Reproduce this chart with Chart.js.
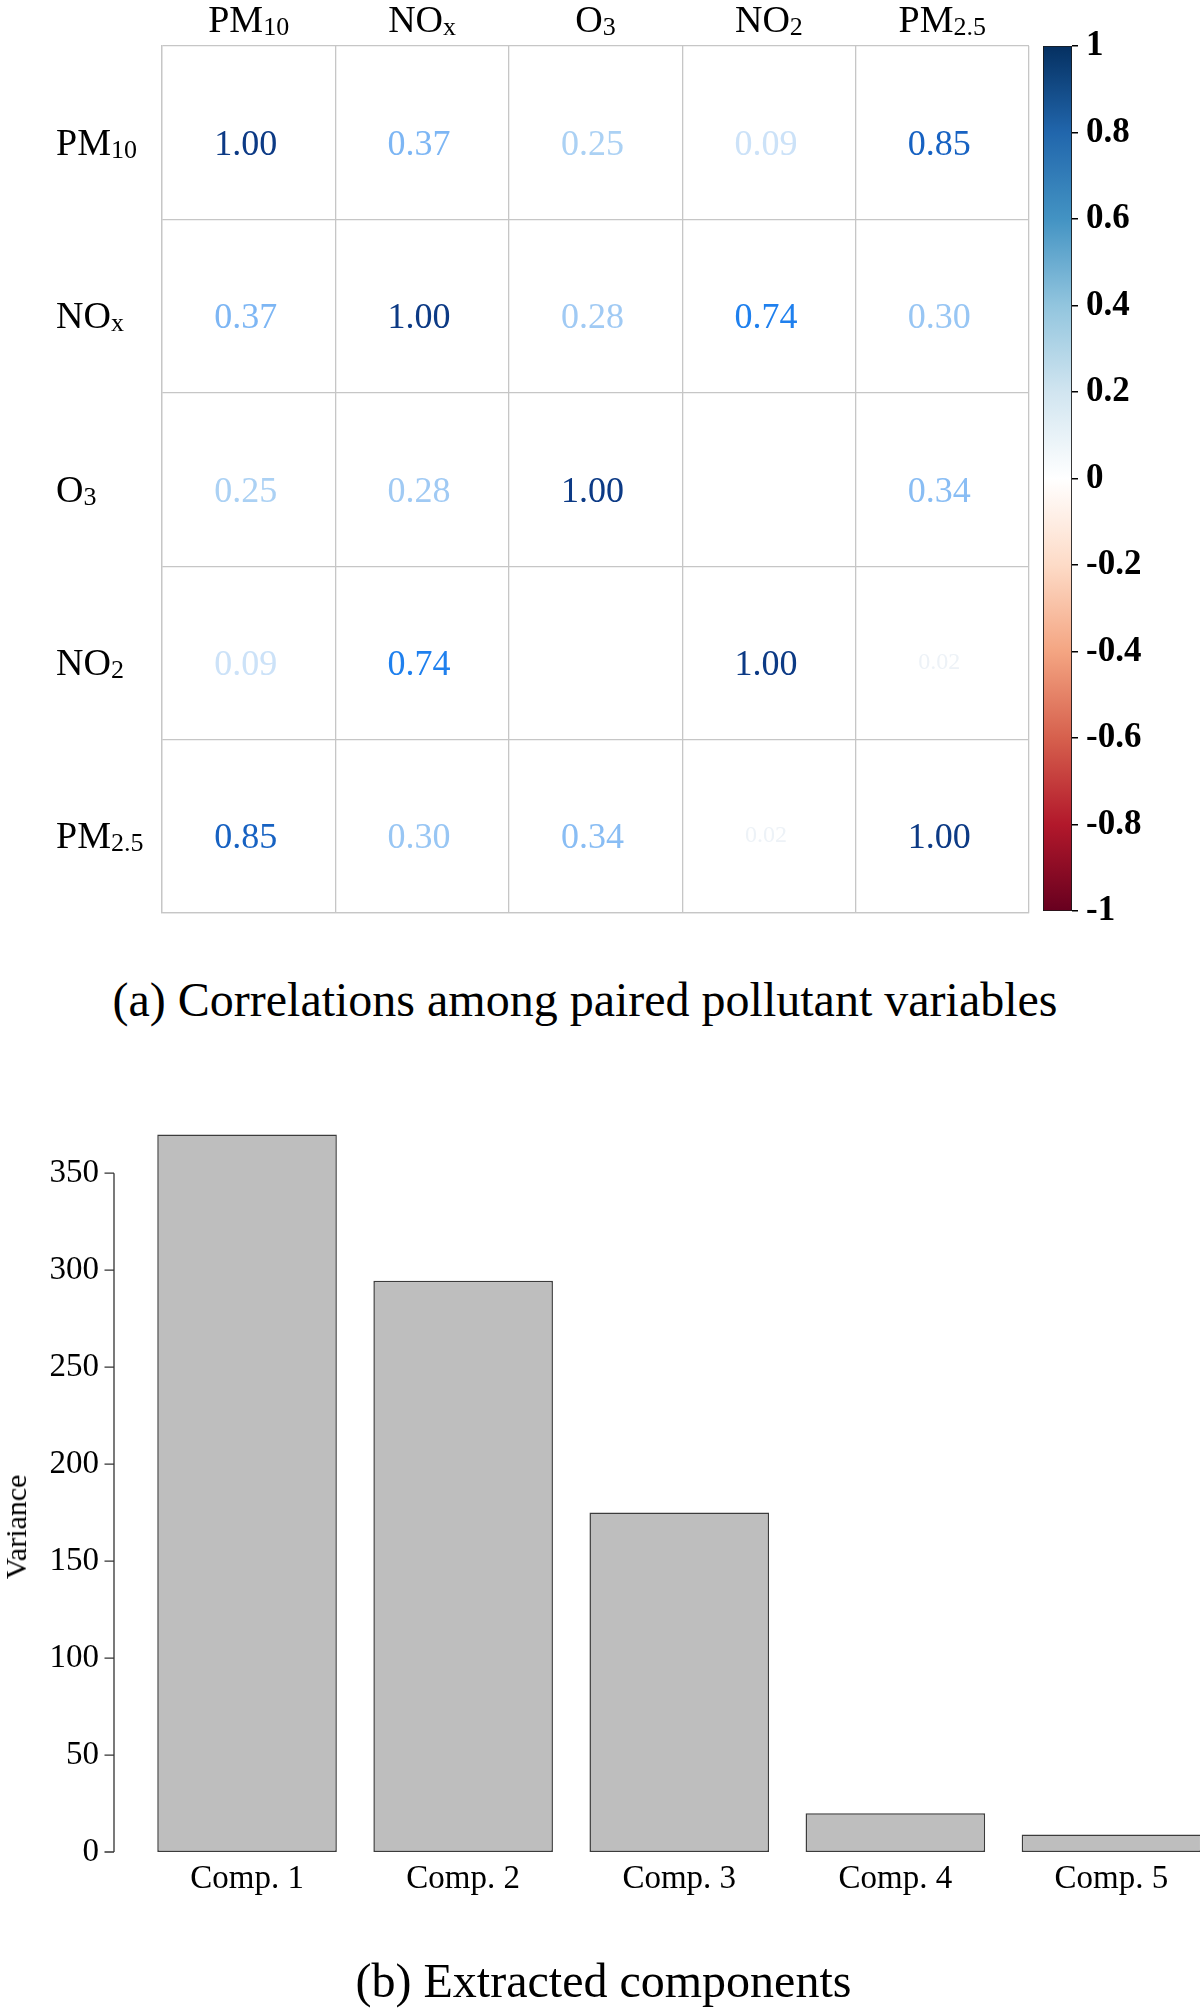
<!DOCTYPE html>
<html>
<head>
<meta charset="utf-8">
<title>Pollutant correlations and extracted components</title>
<script src="https://cdn.jsdelivr.net/npm/chart.js@4.4.1/dist/chart.umd.min.js"></script>
<style>
  html, body { margin: 0; padding: 0; background: #fff; overflow: hidden; }
  body { position: relative; width: 1200px; height: 2009px; font-family: "Liberation Serif", "Times New Roman", serif; color: #000; }
  canvas, .caption, .ylab { position: absolute; }
  .caption { font-size: 48px; line-height: 48px; text-align: center; white-space: nowrap; }
  .ylab { font-size: 30px; line-height: 30px; white-space: nowrap; transform: translate(-50%, -50%) rotate(-90deg); }
</style>
</head>
<body>
<canvas id="corrChart" width="1200" height="960" style="left:0;top:0"></canvas>
<canvas id="scaleChart" width="157" height="960" style="left:1043px;top:0"></canvas>
<div class="caption" style="left:0;top:976px;width:1170px">(a) Correlations among paired pollutant variables</div>
<canvas id="varChart" width="1230" height="959" style="left:0;top:1050px"></canvas>
<div class="ylab" style="left:16px;top:1527px">Variance</div>
<div class="caption" style="left:0;top:1957px;width:1207px">(b) Extracted components</div>

<script>
// variable names, split into main text + subscript
const varLabels = [["PM", "10"], ["NO", "x"], ["O", "3"], ["NO", "2"], ["PM", "2.5"]];

// correlation matrix, one row per variable
const pm10Corr = [1.00, 0.37, 0.25, 0.09, 0.85];
const noxCorr  = [0.37, 1.00, 0.28, 0.74, 0.30];
const o3Corr   = [0.25, 0.28, 1.00, 0.00, 0.34];
const no2Corr  = [0.09, 0.74, 0.00, 1.00, 0.02];
const pm25Corr = [0.85, 0.30, 0.34, 0.02, 1.00];
const corrRows = [pm10Corr, noxCorr, o3Corr, no2Corr, pm25Corr];

const scaleTicks = [1, 0.8, 0.6, 0.4, 0.2, 0, -0.2, -0.4, -0.6, -0.8, -1];

// PCA variances
const components = ["Comp. 1", "Comp. 2", "Comp. 3", "Comp. 4", "Comp. 5"];
const variances = [370, 294.5, 175, 20, 9];
const varianceTicks = [0, 50, 100, 150, 200, 250, 300, 350];

const SERIF = "Liberation Serif";

// RdBu, from -1 to 1
const rdbu = ["#67001F", "#B2182B", "#D6604D", "#F4A582", "#FDDBC7", "#FFFFFF",
              "#D1E5F0", "#92C5DE", "#4393C3", "#2166AC", "#053061"];
// number colours come out brighter than the legend in the figure
const textStops = [[0, "#FFFFFF"], [0.02, "#EDF2F7"], [0.09, "#CCE2F8"], [0.25, "#ABD1F4"],
                   [0.37, "#7DB6F4"], [0.74, "#1F80EE"], [0.85, "#1762C2"], [1, "#0C3A85"]];

function hexToRgb(h) {
  return [1, 3, 5].map((i) => parseInt(h.slice(i, i + 2), 16));
}

function textColor(v) {
  const a = Math.abs(v);
  for (let i = 1; i < textStops.length; i++) {
    const [v0, c0] = textStops[i - 1];
    const [v1, c1] = textStops[i];
    if (a <= v1) {
      const t = (a - v0) / (v1 - v0);
      const p = hexToRgb(c0), q = hexToRgb(c1);
      const m = p.map((x, k) => Math.round(x + (q[k] - x) * t));
      return "rgb(" + m.join(",") + ")";
    }
  }
  return textStops[textStops.length - 1][1];
}

const cells = [];
corrRows.forEach((row, r) => row.forEach((v, c) => cells.push({ x: c + 0.5, y: r + 0.5, v: v })));

// draws "PM" + subscript "10" etc
function drawSub(ctx, parts, x, y, align) {
  ctx.font = "38px \"" + SERIF + "\"";
  const mw = ctx.measureText(parts[0]).width;
  ctx.font = "26px \"" + SERIF + "\"";
  const sw = ctx.measureText(parts[1]).width;
  const start = align === "center" ? x - (mw + sw) / 2 : x;
  ctx.textAlign = "left";
  ctx.textBaseline = "alphabetic";
  ctx.font = "38px \"" + SERIF + "\"";
  ctx.fillText(parts[0], start, y);
  ctx.font = "26px \"" + SERIF + "\"";
  ctx.fillText(parts[1], start + mw, y + 3);
}

const cellText = {
  id: "cellText",
  afterDatasetsDraw(chart) {
    const ctx = chart.ctx;
    const meta = chart.getDatasetMeta(0);
    ctx.save();
    ctx.textAlign = "center";
    ctx.textBaseline = "alphabetic";
    meta.data.forEach((pt, i) => {
      const v = cells[i].v;
      const small = v !== 0 && Math.abs(v) < 0.05;
      ctx.font = (small ? 24 : 36) + "px \"" + SERIF + "\"";
      ctx.fillStyle = textColor(v);
      ctx.fillText(v.toFixed(2), pt.x - 3, pt.y + (small ? 16 : 22));
    });
    ctx.restore();
  },
};

const varNames = {
  id: "varNames",
  afterDraw(chart) {
    const ctx = chart.ctx;
    const xs = chart.scales.x, ys = chart.scales.y;
    ctx.save();
    ctx.fillStyle = "#000";
    varLabels.forEach((parts, i) => {
      drawSub(ctx, parts, xs.getPixelForValue(i + 0.5), 32, "center");
      drawSub(ctx, parts, 56, ys.getPixelForValue(i + 0.5) + 22, "left");
    });
    ctx.restore();
  },
};

new Chart(document.getElementById("corrChart"), {
  type: "scatter",
  data: { datasets: [{ data: cells, pointRadius: 0, pointHoverRadius: 0 }] },
  options: {
    responsive: false,
    animation: false,
    events: [],
    layout: { padding: { left: 162, top: 46, right: 171, bottom: 47 } },
    plugins: { legend: { display: false }, tooltip: { enabled: false } },
    scales: {
      x: {
        type: "linear", min: 0, max: 5,
        ticks: { display: false, stepSize: 1 },
        grid: { color: "#C6C6C6", lineWidth: 1.3, drawTicks: false },
        border: { color: "#C6C6C6", width: 1.3 },
        afterFit(s) { s.height = 0; },
      },
      y: {
        type: "linear", min: 0, max: 5, reverse: true,
        ticks: { display: false, stepSize: 1 },
        grid: { color: "#C6C6C6", lineWidth: 1.3, drawTicks: false },
        border: { color: "#C6C6C6", width: 1.3 },
        afterFit(s) { s.width = 0; },
      },
    },
  },
  plugins: [cellText, varNames],
});

// colour key
new Chart(document.getElementById("scaleChart"), {
  type: "bar",
  data: {
    labels: [""],
    datasets: [{
      data: [[-1, 1]],
      backgroundColor: (c) => {
        const a = c.chart.chartArea;
        if (!a) return "#fff";
        const g = c.chart.ctx.createLinearGradient(0, a.top, 0, a.bottom);
        rdbu.slice().reverse().forEach((col, i) => g.addColorStop(i / 10, col));
        return g;
      },
      borderColor: "#1A1A1A",
      borderWidth: 1.2,
      borderSkipped: false,
      barPercentage: 1,
      categoryPercentage: 1,
    }],
  },
  options: {
    responsive: false,
    animation: false,
    events: [],
    layout: { padding: { top: 46, bottom: 49, left: 0, right: 0 } },
    plugins: { legend: { display: false }, tooltip: { enabled: false } },
    scales: {
      x: { display: false },
      y: {
        position: "right", min: -1, max: 1,
        afterBuildTicks(s) { s.ticks = scaleTicks.map((v) => ({ value: v })); },
        grid: { drawOnChartArea: false, drawTicks: true, tickLength: 6, color: "#000", lineWidth: 1.5 },
        border: { display: false },
        ticks: {
          color: "#000", padding: 8,
          font: { family: SERIF, size: 35, weight: "bold" },
          callback: (v) => String(Math.round(v * 10) / 10),
        },
        afterFit(s) { s.width = 128; },
      },
    },
  },
});

// R style y axis: line only from first to last tick, ticks pointing out
const rAxis = {
  id: "rAxis",
  afterDraw(chart) {
    const ctx = chart.ctx;
    const ys = chart.scales.y;
    const y0 = ys.getPixelForValue(varianceTicks[0]);
    const y1 = ys.getPixelForValue(varianceTicks[varianceTicks.length - 1]);
    ctx.save();
    ctx.strokeStyle = "#333";
    ctx.lineWidth = 1.3;
    ctx.beginPath();
    ctx.moveTo(114, y0);
    ctx.lineTo(114, y1);
    varianceTicks.forEach((v) => {
      const p = ys.getPixelForValue(v);
      ctx.moveTo(104.5, p);
      ctx.lineTo(114, p);
    });
    ctx.stroke();
    ctx.restore();
  },
};

new Chart(document.getElementById("varChart"), {
  type: "bar",
  data: {
    labels: components,
    datasets: [{
      data: variances,
      backgroundColor: "#BEBEBE",
      borderColor: "#3C3C3C",
      borderWidth: 1.5,
      borderSkipped: false,
      barPercentage: 0.831,
      categoryPercentage: 1,
    }],
  },
  options: {
    responsive: false,
    animation: false,
    events: [],
    layout: { padding: { top: 65, right: 10.5, bottom: 0, left: 0 } },
    plugins: { legend: { display: false }, tooltip: { enabled: false } },
    scales: {
      x: {
        grid: { display: false, drawTicks: false },
        border: { display: false },
        ticks: { color: "#000", padding: 8, maxRotation: 0, font: { family: SERIF, size: 33 } },
        afterFit(s) { s.height = 157; },
      },
      y: {
        min: 0, max: 380,
        afterBuildTicks(s) { s.ticks = varianceTicks.map((v) => ({ value: v })); },
        grid: { display: false, drawTicks: false },
        border: { display: false },
        ticks: { color: "#000", padding: 40, font: { family: SERIF, size: 33 } },
        afterFit(s) { s.width = 139; },
      },
    },
  },
  plugins: [rAxis],
});
</script>
</body>
</html>
